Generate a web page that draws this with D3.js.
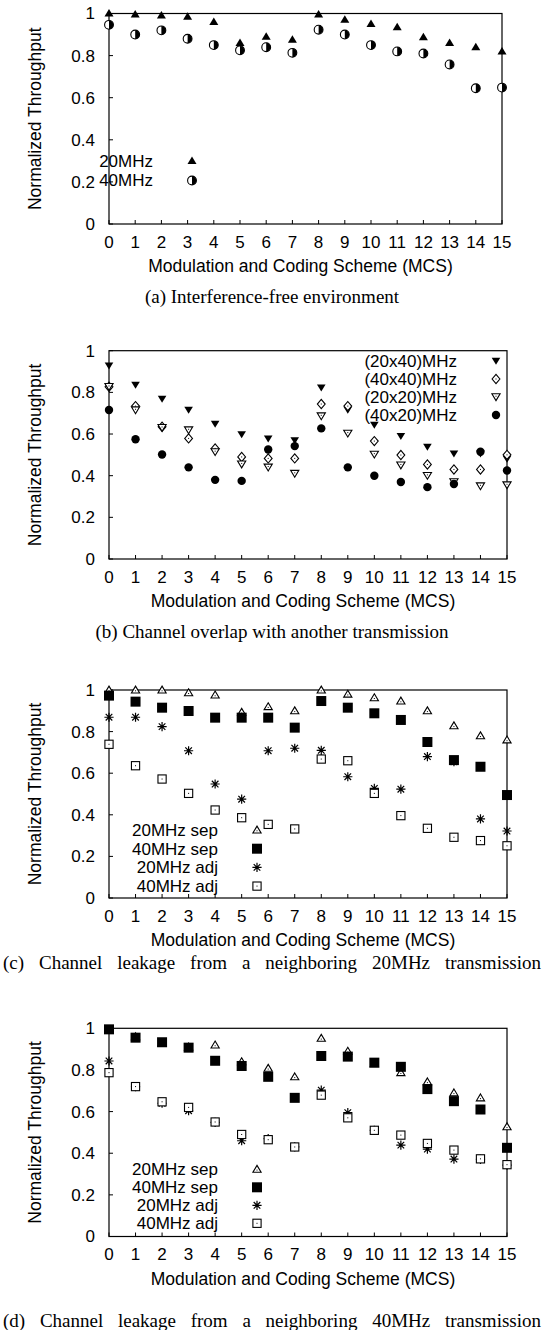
<!DOCTYPE html>
<html lang="en">
<head>
<meta charset="utf-8">
<title>Normalized throughput vs MCS</title>
<script src="https://cdn.jsdelivr.net/npm/d3@7"></script>
<style>
  body { margin: 0; background: #fff; }
  svg text { font-family: "Liberation Sans", Arial, sans-serif; fill: #000; }
  svg text.cap { font-family: "Liberation Serif", "Times New Roman", serif; }
</style>
</head>
<body>
<script>

// categories and ticks
var mcs = [0, 1, 2, 3, 4, 5, 6, 7, 8, 9, 10, 11, 12, 13, 14, 15];
var yTicks = [0, 0.2, 0.4, 0.6, 0.8, 1];
var yTickLabels = ["0", "0.2", "0.4", "0.6", "0.8", "1"];

// (a) interference-free
var a20 = [1.0, 0.995, 0.99, 0.985, 0.96, 0.86, 0.89, 0.875, 0.995, 0.97, 0.95, 0.935, 0.887, 0.86, 0.84, 0.82];
var a40 = [0.946, 0.90, 0.92, 0.88, 0.85, 0.825, 0.84, 0.813, 0.923, 0.90, 0.85, 0.82, 0.81, 0.758, 0.645, 0.648];

// (b) channel overlap
var b2040 = [0.928, 0.835, 0.768, 0.715, 0.648, 0.598, 0.577, 0.569, 0.822, 0.715, 0.643, 0.59, 0.538, 0.506, 0.505, 0.48];
var b4040 = [0.827, 0.734, 0.635, 0.579, 0.531, 0.49, 0.483, 0.483, 0.744, 0.734, 0.566, 0.499, 0.454, 0.43, 0.43, 0.50];
var b2020 = [0.827, 0.715, 0.63, 0.619, 0.514, 0.455, 0.44, 0.41, 0.686, 0.603, 0.502, 0.45, 0.40, 0.37, 0.35, 0.355];
var b4020 = [0.715, 0.575, 0.502, 0.44, 0.38, 0.375, 0.526, 0.542, 0.627, 0.44, 0.40, 0.37, 0.345, 0.36, 0.515, 0.425];

// (c) leakage from 20MHz neighbour
var c20sep = [1.0, 1.0, 1.0, 0.987, 0.976, 0.893, 0.92, 0.90, 1.0, 0.98, 0.963, 0.947, 0.90, 0.828, 0.78, 0.76];
var c40sep = [0.973, 0.944, 0.915, 0.899, 0.867, 0.867, 0.867, 0.819, 0.947, 0.915, 0.888, 0.856, 0.75, 0.663, 0.631, 0.495];
var c20adj = [0.869, 0.869, 0.824, 0.708, 0.548, 0.475, 0.708, 0.72, 0.71, 0.583, 0.527, 0.523, 0.68, 0.655, 0.38, 0.322];
var c40adj = [0.739, 0.636, 0.572, 0.503, 0.423, 0.386, 0.354, 0.332, 0.668, 0.66, 0.503, 0.396, 0.335, 0.292, 0.276, 0.251];

// (d) leakage from 40MHz neighbour
var d20sep = [0.99, 0.96, 0.93, 0.91, 0.92, 0.84, 0.808, 0.767, 0.952, 0.89, 0.83, 0.787, 0.743, 0.69, 0.666, 0.527];
var d40sep = [0.995, 0.955, 0.933, 0.907, 0.844, 0.819, 0.767, 0.666, 0.867, 0.864, 0.835, 0.815, 0.708, 0.65, 0.61, 0.426];
var d20adj = [0.843, 0.72, 0.64, 0.604, 0.548, 0.46, 0.47, 0.43, 0.703, 0.595, 0.51, 0.439, 0.42, 0.372, 0.37, 0.343];
var d40adj = [0.787, 0.72, 0.647, 0.62, 0.55, 0.49, 0.465, 0.43, 0.679, 0.57, 0.51, 0.487, 0.447, 0.415, 0.373, 0.345];

var W = 545, H = 1330;

var panels = [
  { top: 13.5, bottom: 224, left: 109, right: 502, capY: 296,
    caption: "(a) Interference-free environment", justify: false,
    series: [ { name: "20MHz", vals: a20, sym: "triF" },
              { name: "40MHz", vals: a40, sym: "half" } ],
    leg: { tx: 153, mx: 192, y: 161, dy: 19.5 } },
  { top: 350.7, bottom: 559, left: 109, right: 507, capY: 631,
    caption: "(b) Channel overlap with another transmission", justify: false,
    series: [ { name: "(20x40)MHz", vals: b2040, sym: "triDF" },
              { name: "(40x40)MHz", vals: b4040, sym: "diaO" },
              { name: "(20x20)MHz", vals: b2020, sym: "triDO" },
              { name: "(40x20)MHz", vals: b4020, sym: "circF" } ],
    leg: { tx: 457, mx: 496, y: 361, dy: 18 } },
  { top: 690, bottom: 898, left: 109, right: 507, capY: 962,
    caption: "(c) Channel leakage from a neighboring 20MHz transmission", justify: true,
    series: [ { name: "20MHz sep", vals: c20sep, sym: "triO" },
              { name: "40MHz sep", vals: c40sep, sym: "sqF" },
              { name: "20MHz adj", vals: c20adj, sym: "star" },
              { name: "40MHz adj", vals: c40adj, sym: "sqO" } ],
    leg: { tx: 218, mx: 257, y: 830, dy: 18.7 } },
  { top: 1028.3, bottom: 1236.5, left: 109, right: 507, capY: 1320,
    caption: "(d) Channel leakage from a neighboring 40MHz transmission", justify: true,
    series: [ { name: "20MHz sep", vals: d20sep, sym: "triO" },
              { name: "40MHz sep", vals: d40sep, sym: "sqF" },
              { name: "20MHz adj", vals: d20adj, sym: "star" },
              { name: "40MHz adj", vals: d40adj, sym: "sqO" } ],
    leg: { tx: 218, mx: 257, y: 1169.3, dy: 18 } }
];

var svg = d3.select("body").append("svg")
  .attr("width", W)
  .attr("height", H);

// draws one point symbol centred on (x, y)
function drawSym(g, type, x, y) {
  var s = g.append("g").attr("transform", "translate(" + x + "," + y + ")");
  if (type == "triF") {
    s.append("path").attr("d", "M0,-4.5L4.5,3L-4.5,3Z").attr("fill", "#000");
  } else if (type == "half") {
    s.append("circle").attr("r", 4.4).attr("fill", "#fff").attr("stroke", "#000").attr("stroke-width", 1.1);
    s.append("path").attr("d", "M0,-4.4A4.4,4.4 0 0 1 0,4.4Z").attr("fill", "#000");
  } else if (type == "triDF") {
    s.append("path").attr("d", "M-4.3,-3.2L4.3,-3.2L0,3.8Z").attr("fill", "#000");
  } else if (type == "diaO") {
    s.append("path").attr("d", "M0,-4.6L3.9,0L0,4.6L-3.9,0Z").attr("fill", "#fff").attr("stroke", "#000").attr("stroke-width", 1.1);
    s.append("rect").attr("x", -0.5).attr("y", -0.5).attr("width", 1).attr("height", 1).attr("fill", "#000");
  } else if (type == "triDO") {
    s.append("path").attr("d", "M-4.1,-3.2L4.1,-3.2L0,3.6Z").attr("fill", "#fff").attr("stroke", "#000").attr("stroke-width", 1.1);
    s.append("rect").attr("x", -0.5).attr("y", -1.3).attr("width", 1).attr("height", 1).attr("fill", "#000");
  } else if (type == "circF") {
    s.append("circle").attr("r", 4.2).attr("fill", "#000");
  } else if (type == "triO") {
    s.append("path").attr("d", "M0,-3.9L4.1,3L-4.1,3Z").attr("fill", "#fff").attr("stroke", "#000").attr("stroke-width", 1.1);
    s.append("rect").attr("x", -0.5).attr("y", 0.3).attr("width", 1).attr("height", 1).attr("fill", "#000");
  } else if (type == "sqF") {
    s.append("rect").attr("x", -5).attr("y", -5).attr("width", 10).attr("height", 10).attr("fill", "#000");
  } else if (type == "star") {
    s.append("path")
      .attr("d", "M0,-4.6V4.6M-4.6,0H4.6M-3.3,-3.3L3.3,3.3M-3.3,3.3L3.3,-3.3")
      .attr("stroke", "#000").attr("stroke-width", 1.2).attr("fill", "none");
  } else if (type == "sqO") {
    s.append("rect").attr("x", -4.1).attr("y", -4.1).attr("width", 8.2).attr("height", 8.2)
      .attr("fill", "#fff").attr("stroke", "#000").attr("stroke-width", 1.1);
    s.append("rect").attr("x", -0.5).attr("y", -0.5).attr("width", 1).attr("height", 1).attr("fill", "#000");
  }
}

panels.forEach(function (p) {
  var x = d3.scaleLinear().domain([0, 15]).range([p.left, p.right]);
  var y = d3.scaleLinear().domain([0, 1]).range([p.bottom, p.top]);
  var g = svg.append("g");

  // frame
  g.append("rect")
    .attr("x", p.left).attr("y", p.top)
    .attr("width", p.right - p.left).attr("height", p.bottom - p.top)
    .attr("fill", "none").attr("stroke", "#000").attr("stroke-width", 1.2);

  // y ticks (inward)
  g.selectAll(".yt").data(yTicks).enter().append("line")
    .attr("x1", p.left).attr("x2", p.left + 4)
    .attr("y1", function (d) { return y(d); })
    .attr("y2", function (d) { return y(d); })
    .attr("stroke", "#000");
  g.selectAll(".yl").data(yTicks).enter().append("text")
    .attr("x", 95)
    .attr("y", function (d) { return y(d); })
    .attr("dy", "0.35em")
    .attr("text-anchor", "end")
    .attr("font-size", 17)
    .text(function (d, i) { return yTickLabels[i]; });

  // x ticks (inward)
  g.selectAll(".xt").data(mcs).enter().append("line")
    .attr("x1", function (d) { return x(d); })
    .attr("x2", function (d) { return x(d); })
    .attr("y1", p.bottom).attr("y2", p.bottom - 4)
    .attr("stroke", "#000");
  g.selectAll(".xl").data(mcs).enter().append("text")
    .attr("x", function (d) { return x(d); })
    .attr("y", p.bottom + 18)
    .attr("dy", "0.35em")
    .attr("text-anchor", "middle")
    .attr("font-size", 17)
    .text(function (d) { return d; });

  // axis titles
  g.append("text")
    .attr("x", (p.left + p.right) / 2 - 5)
    .attr("y", p.bottom + 42)
    .attr("dy", "0.35em")
    .attr("text-anchor", "middle")
    .attr("font-size", 17.5)
    .text("Modulation and Coding Scheme (MCS)");
  g.append("text")
    .attr("transform", "translate(35," + (p.top + p.bottom) / 2 + ") rotate(-90)")
    .attr("dy", "0.35em")
    .attr("text-anchor", "middle")
    .attr("font-size", 17.5)
    .text("Normalized Throughput");

  // points, in legend order
  p.series.forEach(function (s) {
    s.vals.forEach(function (v, i) {
      drawSym(g, s.sym, x(mcs[i]), y(v));
    });
  });

  // legend
  p.series.forEach(function (s, i) {
    var ly = p.leg.y + i * p.leg.dy;
    g.append("text")
      .attr("x", p.leg.tx).attr("y", ly)
      .attr("dy", "0.35em")
      .attr("text-anchor", "end")
      .attr("font-size", 17)
      .text(s.name);
    drawSym(g, s.sym, p.leg.mx, ly);
  });

  // caption
  if (!p.justify) {
    g.append("text")
      .attr("class", "cap")
      .attr("x", 272).attr("y", p.capY)
      .attr("dy", "0.35em")
      .attr("text-anchor", "middle")
      .attr("font-size", 19)
      .text(p.caption);
  } else {
    // spread the words over the full line width
    var words = p.caption.split(" ");
    var nodes = words.map(function (w) {
      return g.append("text")
        .attr("class", "cap")
        .attr("y", p.capY)
        .attr("dy", "0.35em")
        .attr("font-size", 19)
        .text(w);
    });
    var widths = nodes.map(function (n) { return n.node().getComputedTextLength(); });
    var total = d3.sum(widths);
    var gap = (541 - 3 - total) / (words.length - 1);
    var cx = 3;
    nodes.forEach(function (n, i) {
      n.attr("x", cx);
      cx += widths[i] + gap;
    });
  }
});

</script>
</body>
</html>
